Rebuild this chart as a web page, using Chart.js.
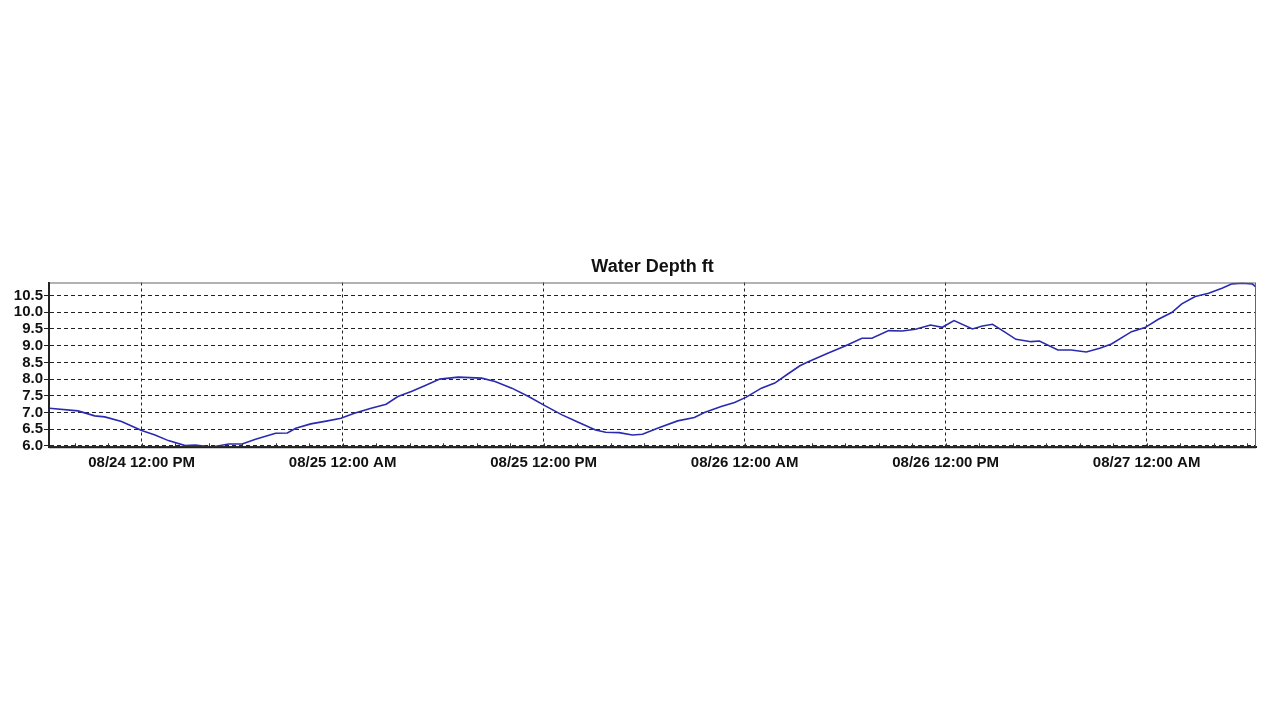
<!DOCTYPE html>
<html>
<head>
<meta charset="utf-8">
<title>Water Depth ft</title>
<script src="https://cdn.jsdelivr.net/npm/chart.js@4/dist/chart.umd.min.js"></script>
<style>
  html, body { margin: 0; padding: 0; background: #fff; }
  #wrap { width: 1280px; height: 720px; position: relative; }
</style>
</head>
<body>
<div id="wrap"><canvas id="chart"></canvas></div>
<script>
// hours since 08/24 12:00 AM
const hours = [
  6.5, 8.2, 9.2, 9.8, 10.8, 12.0, 12.8, 13.6, 14.6, 15.2, 16.2, 17.2, 18.0, 18.8,
  20.0, 20.7, 21.2, 22.1, 23.1, 23.9, 24.7, 25.7, 26.6, 27.3, 28.1, 28.9, 29.8,
  30.9, 32.3, 33.1, 34.1, 35.1, 36.1, 37.1, 38.1, 39.1, 39.7, 40.5, 41.3, 41.9,
  42.8, 44.0, 45.0, 45.6, 46.6, 47.4, 48.1, 49.0, 49.8, 50.6, 51.3, 51.8, 53.0,
  54.0, 55.0, 55.6, 56.6, 57.4, 58.2, 59.1, 59.8, 60.5, 61.6, 62.2, 62.8, 63.4,
  64.2, 65.1, 65.6, 66.7, 67.5, 68.4, 69.2, 69.9, 71.1, 71.9, 72.7, 73.5, 74.1,
  74.9, 75.7, 76.5, 77.1, 77.7, 78.3, 78.5
];
const depth = [
  7.13, 7.05, 6.90, 6.87, 6.73, 6.46, 6.33, 6.16, 6.01, 6.03, 5.97, 6.06, 6.06, 6.20,
  6.38, 6.39, 6.53, 6.66, 6.75, 6.83, 6.98, 7.13, 7.25, 7.48, 7.63, 7.80, 8.00,
  8.06, 8.03, 7.93, 7.73, 7.48, 7.20, 6.93, 6.70, 6.48, 6.41, 6.40, 6.33, 6.35,
  6.53, 6.75, 6.85, 7.00, 7.18, 7.30, 7.46, 7.73, 7.88, 8.16, 8.40, 8.52, 8.78,
  8.99, 9.22, 9.22, 9.45, 9.44, 9.49, 9.62, 9.55, 9.75, 9.50, 9.59, 9.64, 9.45,
  9.19, 9.12, 9.14, 8.87, 8.87, 8.81, 8.92, 9.05, 9.42, 9.54, 9.79, 9.99, 10.25,
  10.47, 10.57, 10.72, 10.85, 10.87, 10.85, 10.77
];

const xTickHours = [12, 24, 36, 48, 60, 72];
const xTickLabels = [
  "08/24 12:00 PM", "08/25 12:00 AM", "08/25 12:00 PM",
  "08/26 12:00 AM", "08/26 12:00 PM", "08/27 12:00 AM"
];
const yTicks = [6.0, 6.5, 7.0, 7.5, 8.0, 8.5, 9.0, 9.5, 10.0, 10.5];

const X_MIN = 6.47, X_MAX = 78.53;
const Y_MIN = 5.96, Y_MAX = 10.89;
const TITLE = "Water Depth ft";

// title centred over the plot, frame around the plot, minor tick marks
const framePlugin = {
  id: "frame",
  afterDraw(chart) {
    const { ctx, chartArea: a, scales } = chart;
    ctx.save();
    ctx.fillStyle = "#111";
    ctx.font = "bold 18px 'Liberation Sans', Arial";
    ctx.textAlign = "center";
    ctx.textBaseline = "middle";
    ctx.fillText(TITLE, (a.left + a.right) / 2, a.top - 15);

    ctx.strokeStyle = "#666";
    ctx.lineWidth = 1;
    ctx.strokeRect(a.left + 0.5, a.top + 0.5, a.right - a.left - 1, a.bottom - a.top - 1);

    ctx.strokeStyle = "#333";
    ctx.beginPath();
    for (let h = 8; h < X_MAX; h += 2) {
      const x = Math.round(scales.x.getPixelForValue(h)) + 0.5;
      ctx.moveTo(x, a.bottom);
      ctx.lineTo(x, a.bottom - 4);
    }
    ctx.stroke();

    ctx.strokeStyle = "#222";
    ctx.lineWidth = 2;
    ctx.beginPath();
    ctx.moveTo(a.left, a.bottom);
    ctx.lineTo(a.right, a.bottom);
    ctx.moveTo(a.left, a.top);
    ctx.lineTo(a.left, a.bottom);
    ctx.stroke();
    ctx.restore();
  }
};

const ctx = document.getElementById("chart").getContext("2d");

new Chart(ctx, {
  type: "line",
  data: {
    datasets: [{
      label: TITLE,
      data: hours.map((h, i) => ({ x: h, y: depth[i] })),
      borderColor: "#2a2ab0",
      borderWidth: 1.6,
      pointRadius: 0,
      tension: 0,
      fill: false
    }]
  },
  options: {
    responsive: true,
    maintainAspectRatio: false,
    animation: false,
    layout: { padding: { top: 282.5, left: 0, right: 24, bottom: 242.7 } },
    plugins: {
      legend: { display: false },
      tooltip: { enabled: false },
      title: { display: false }
    },
    scales: {
      x: {
        type: "linear",
        min: X_MIN,
        max: X_MAX,
        afterBuildTicks: s => { s.ticks = xTickHours.map(v => ({ value: v })); },
        afterFit: s => { s.height = 30; },
        grid: {
          color: "#222",
          lineWidth: 1,
          drawTicks: false
        },
        border: { display: true, color: "#222", width: 2, dash: [3, 3] },
        ticks: {
          autoSkip: false,
          maxRotation: 0,
          padding: 7,
          color: "#111",
          font: { family: "Liberation Sans, Arial", size: 15, weight: "bold" },
          callback: v => xTickLabels[xTickHours.indexOf(v)]
        }
      },
      y: {
        type: "linear",
        min: Y_MIN,
        max: Y_MAX,
        afterBuildTicks: s => { s.ticks = yTicks.map(v => ({ value: v })); },
        afterFit: s => { s.width = 49; },
        grid: {
          color: "#222",
          lineWidth: 1,
          drawTicks: true,
          tickLength: 5,
          tickColor: "#222"
        },
        border: { display: true, color: "#222", width: 2, dash: [4, 3] },
        ticks: {
          autoSkip: false,
          padding: 1,
          color: "#111",
          font: { family: "Liberation Sans, Arial", size: 15, weight: "bold" },
          callback: v => v.toFixed(1)
        }
      }
    }
  },
  plugins: [framePlugin]
});
</script>
</body>
</html>
